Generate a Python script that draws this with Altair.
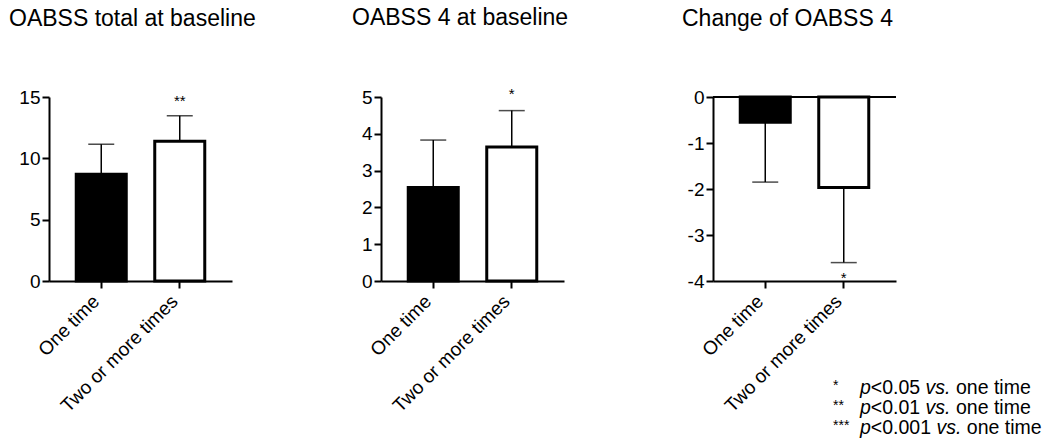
import altair as alt
import pandas as pd

FONT = "Liberation Sans"

categories = ["One time", "Two or more times"]
bar_fills = ["black", "white"]

titles = ["OABSS total at baseline", "OABSS 4 at baseline", "Change of OABSS 4"]

means_total = [8.7, 11.4]
sd_total = [2.45, 2.07]
sig_total = ["", "**"]

means_o4 = [2.54, 3.64]
sd_o4 = [1.29, 0.99]
sig_o4 = ["", "*"]

means_chg = [-0.55, -1.97]
sd_chg = [1.30, 1.63]
sig_chg = ["", "*"]

y_domains = [[0, 15], [0, 5], [-4, 0]]
y_ticks = [[0, 5, 10, 15], [0, 1, 2, 3, 4, 5], [-4, -3, -2, -1, 0]]

legend_stars = ["*", "**", "***"]
legend_p = ["<0.05", "<0.01", "<0.001"]

W, H = 183, 184

# Arial / Liberation Sans advance widths (em) for legend layout
ADV = {"p": .556, "<": .584, "0": .556, "1": .556, "5": .556, ".": .278, " ": .278,
       "v": .5, "s": .5}


def tw(s, f):
    return sum(ADV.get(c, .556) for c in s) * f


def panel(title, means, sds, sig, domain, ticks, dx, negative=False, sig_y=0, sig_dy=8.5):
    sign = -1 if negative else 1
    df = pd.DataFrame({"group": categories, "mean": means, "sd": sds,
                       "fill": bar_fills, "sig": sig})
    df["end"] = df["mean"] + sign * df["sd"]
    xenc = alt.X("group:N", sort=categories,
                 scale=alt.Scale(paddingInner=0.363, paddingOuter=0.347),
                 axis=alt.Axis(title=None, labelAngle=-45, labelAlign="right",
                               labelBaseline="middle", labelFontSize=19, labelPadding=10,
                               labelOffset=-5,
                               labelFont=FONT, labelColor="black",
                               tickSize=7, tickWidth=2, tickColor="black",
                               domainWidth=2, domainColor="black", grid=False))
    yscale = alt.Scale(domain=domain, nice=False, zero=False)
    yaxis = alt.Axis(title=None, values=ticks, labelFontSize=19, labelFont=FONT,
                     labelExpr="datum.value + ''",
                     labelColor="black", labelPadding=2, tickSize=7, tickWidth=2,
                     tickColor="black", domainWidth=2, domainColor="black", grid=False)
    base = alt.Chart(df)
    rule = base.mark_rule(color="black", strokeWidth=1.5).encode(
        x=xenc, y=alt.Y("mean:Q", scale=yscale, axis=yaxis), y2="end:Q")
    cap = base.mark_tick(color="black", size=26, thickness=1.5).encode(
        x=xenc, y=alt.Y("end:Q", scale=yscale, axis=yaxis))
    bars = base.mark_bar(stroke="black", strokeWidth=3).encode(
        x=xenc, y=alt.Y("mean:Q", scale=yscale, axis=yaxis), y2=alt.datum(0),
        fill=alt.Fill("fill:N", scale=None))
    stars = base.mark_text(fontSize=15, font=FONT, color="black",
                           baseline="alphabetic", dy=sig_dy).encode(
        x=xenc, y=alt.value(sig_y), text="sig:N")
    layers = [rule, cap, bars, stars]
    if negative:
        zero = alt.Chart(df).mark_rule(color="black", strokeWidth=2).encode(
            y=alt.Y(datum=0, scale=yscale, axis=yaxis))
        layers.append(zero)
    return alt.layer(*layers).properties(
        width=W, height=H,
        title=alt.TitleParams(text=title, anchor="start", frame="group", fontSize=23,
                              font=FONT, fontWeight="normal", color="black", dx=dx,
                              offset=57))


p1 = panel(titles[0], means_total, sd_total, sig_total, y_domains[0], y_ticks[0], -40)
p2 = panel(titles[1], means_o4, sd_o4, sig_o4, y_domains[1], y_ticks[1], -29, sig_dy=2)
p3 = panel(titles[2], means_chg, sd_chg, sig_chg, y_domains[2], y_ticks[2], -31,
           negative=True, sig_y=H, sig_dy=1.5)

# legend of significance marks, placed below the third panel
LF = 19.5
leg = []
for i, (st, pv) in enumerate(zip(legend_stars, legend_p)):
    yb = 297 + 20 * i
    x0 = 147
    segs = [
        (st, 120, yb - 4, 14, "normal"),
        ("p", x0, yb, LF, "italic"),
        (pv, x0 + tw("p", LF), yb, LF, "normal"),
        ("vs.", x0 + tw("p" + pv + " ", LF), yb, LF, "italic"),
        ("one time", x0 + tw("p" + pv + " vs. ", LF), yb, LF, "normal"),
    ]
    for text, x, y, fs, style in segs:
        leg.append(
            alt.Chart(pd.DataFrame({"t": [text]})).mark_text(
                align="left", baseline="alphabetic", fontSize=fs, font=FONT,
                fontStyle=style, color="black").encode(
                x=alt.value(x), y=alt.value(y), text="t:N"))

p3 = alt.layer(p3, *leg)

chart = alt.hconcat(p1, p2, p3, spacing=149, bounds="flush").properties(
    padding={"left": 9, "top": 7, "right": 2, "bottom": 2},
    background="white",
).configure_view(stroke=None)

chart.save("out.html", embed_options={"renderer": "svg", "actions": False})
